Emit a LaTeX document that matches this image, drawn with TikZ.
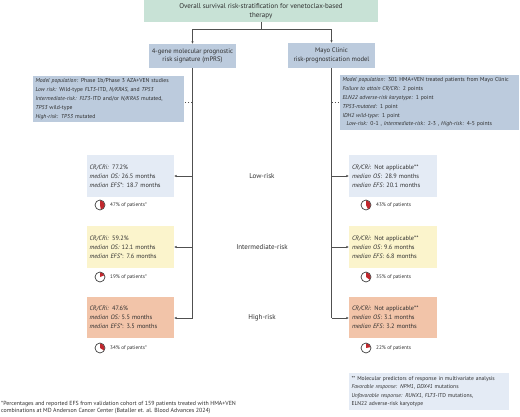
\documentclass[tikz,border=0pt]{standalone}
\usepackage{fontspec}
\setmainfont{PT Sans}
\usetikzlibrary{arrows.meta}
\definecolor{topc}{HTML}{C8E2D6}
\definecolor{modc}{HTML}{BCCBDD}
\definecolor{lowc}{HTML}{E4EBF5}
\definecolor{intc}{HTML}{FBF4CC}
\definecolor{higc}{HTML}{F2C4A9}
\definecolor{notec}{HTML}{E4EBF5}
\definecolor{linec}{HTML}{505050}
\definecolor{txtc}{HTML}{2E2E2E}
\definecolor{piered}{HTML}{C1272D}
\tikzset{
  box/.style={draw=none, inner sep=2.5pt, outer sep=0pt, text=txtc},
  headbox/.style={box, align=center, font=\fontsize{6.6}{8.6}\selectfont},
  resbox/.style={box, minimum height=42pt, text width=82pt, align=left, font=\fontsize{6.3}{9}\selectfont},
  modbox/.style={box, align=left, font=\fontsize{5.7}{8.8}\selectfont},
  risklabel/.style={text=txtc, font=\fontsize{7}{8}\selectfont},
  pietext/.style={anchor=west, text=txtc, inner sep=0pt, font=\fontsize{5.2}{6}\selectfont},
  conn/.style={draw=linec, line width=0.8pt},
  arr/.style={conn, -{Latex[length=2.6pt,width=2.4pt]}},
  dotconn/.style={draw=linec, line width=0.8pt, dash pattern=on 1.2pt off 2pt},
}
\newcommand{\mypie}[4]{% name, x, y, pct
  \node[circle, draw=linec, line width=0.5pt, fill=white, minimum size=10pt, inner sep=0pt] (#1) at (#2,#3) {};
  \fill[piered] (#2,#3) -- ++(-90:4.75) arc[start angle=-90, end angle={-90+3.6*#4}, radius=4.75] -- cycle;
  \draw[linec, line width=0.5pt] (#1) circle[radius=5];
}
\begin{document}
\begin{tikzpicture}[x=1pt,y=-1pt]
\useasboundingbox (0,0) rectangle (520,417);
% top
\node[headbox, fill=topc, minimum width=234pt, minimum height=22pt, font=\fontsize{7}{9}\selectfont] (top) at (261,11)
  {Overall survival risk-stratification for venetoclax-based\\therapy};
\node[headbox, fill=modc, minimum width=87pt, minimum height=24pt] (mprs) at (192.5,56)
  {4-gene molecular prognostic\\risk signature (mPRS)};
\node[headbox, fill=modc, minimum width=87pt, minimum height=25pt] (mayo) at (331.5,55.5)
  {Mayo Clinic\\risk-prognostication model};
\coordinate (split) at (261,29);
\draw[conn] (top.south) -- (split);
\draw[arr] (split) -| (mprs.north);
\draw[arr] (split) -| (mayo.north);

% model boxes
\node[modbox, fill=modc, minimum width=151pt, minimum height=46pt, text width=146pt] (modL) at (108.5,99)
  {\textit{Model population:}\enspace Phase 1b/Phase 3 AZA+VEN studies\\
   \textit{Low risk:} Wild-type \textit{FLT3}-ITD, \textit{N/KRAS}, and \textit{TP53}\\
   \textit{Intermediate-risk:}\enspace \textit{FLT3}-ITD and/or \textit{N/KRAS} mutated,\\
   \textit{TP53} wild-type\\
   \textit{High-risk:}\enspace \textit{TP53} mutated};
\node[modbox, fill=modc, minimum width=179pt, minimum height=51pt, text width=174pt] (modR) at (429.5,102.5)
  {\textit{Model population:}\enspace 301 HMA+VEN treated patients from Mayo Clinic\\
   \textit{Failure to attain CR/CRi:}\enspace 2 points\\
   \textit{ELN22 adverse-risk karyotype:}\enspace 1 point\\
   \textit{TP53-mutated:}\enspace 1 point\\
   \textit{IDH2 wild-type:}\enspace 1 point\\
   \hspace*{4pt}\textit{Low-risk:}\enspace 0-1 , \textit{Intermediate-risk:}\enspace 2-3 , \textit{High-risk:}\enspace 4-5 points};

% result boxes left
\node[resbox, fill=lowc, minimum width=87pt] (L1) at (130.5,176)
  {\textit{CR/CRi:} 77.2\%\\\textit{median OS:} 26.5 months\\\textit{median EFS*}: 18.7 months};
\node[resbox, fill=intc, minimum width=87pt] (L2) at (130.5,247)
  {\textit{CR/CRi:} 59.2\%\\\textit{median OS:} 12.1 months\\\textit{median EFS*}: 7.6 months};
\node[resbox, fill=higc, minimum width=87pt, minimum height=41pt] (L3) at (130.5,317.5)
  {\textit{CR/CRi:} 47.6\%\\\textit{median OS:} 5.5 months\\\textit{median EFS*}: 3.5 months};
% result boxes right
\node[resbox, fill=lowc, minimum width=88pt] (R1) at (393,176)
  {\textit{CR/CRi}: Not applicable**\\\textit{median OS}:\enspace 28.9 months\\\textit{median EFS}: 20.1 months};
\node[resbox, fill=intc, minimum width=88pt] (R2) at (393,247)
  {\textit{CR/CRi}: Not applicable**\\\textit{median OS}: 9.6 months\\\textit{median EFS}: 6.8 months};
\node[resbox, fill=higc, minimum width=88pt, minimum height=41pt] (R3) at (393,317.5)
  {\textit{CR/CRi}: Not applicable**\\\textit{median OS}: 3.1 months\\\textit{median EFS}: 3.2 months};

% risk labels
\node[risklabel] (lowlab) at (262,176) {Low-risk};
\node[risklabel] (intlab) at (262,247) {Intermediate-risk};
\node[risklabel] (higlab) at (262,318) {High-risk};

% left spine
\coordinate (lb1) at (192.5,176);
\coordinate (lb2) at (192.5,247);
\coordinate (lcorner) at (192.5,318);
\coordinate (lmod) at (192.5,102);
\draw[conn] (mprs.south) -- (lcorner);
\draw[arr] (lb1) -- (L1.east |- lb1);
\draw[arr] (lb2) -- (L2.east |- lb2);
\draw[arr] (lcorner) -- (L3.east |- lcorner);
\draw[dotconn] (lmod) -- (modL.east |- lmod);
% right spine
\coordinate (rb1) at (331.5,176);
\coordinate (rb2) at (331.5,247);
\coordinate (rcorner) at (331.5,318);
\coordinate (rmod) at (331.5,102);
\draw[conn] (mayo.south) -- (rcorner);
\draw[arr] (rb1) -- (R1.west |- rb1);
\draw[arr] (rb2) -- (R2.west |- rb2);
\draw[arr] (rcorner) -- (R3.west |- rcorner);
\draw[dotconn] (rmod) -- (modR.west |- rmod);

% pies
\mypie{pL1}{100}{205}{47}
\mypie{pL2}{100}{277}{19}
\mypie{pL3}{100}{348}{34}
\mypie{pR1}{366}{205}{43}
\mypie{pR2}{366}{277}{35}
\mypie{pR3}{366}{348}{22}
\node[pietext] (tL1) at (110,205) {47\% of patients*};
\node[pietext] (tL2) at (110,277) {19\% of patients*};
\node[pietext] (tL3) at (110,348) {34\% of patients*};
\node[pietext] (tR1) at (376,205) {43\% of patients};
\node[pietext] (tR2) at (376,277) {35\% of patients};
\node[pietext] (tR3) at (376,348) {22\% of patients};

% notes
\node[modbox, fill=notec, minimum width=160pt, minimum height=37pt, text width=155pt, font=\fontsize{5.6}{8.4}\selectfont] (note) at (429,391.5)
  {** Molecular predictors of response in multivariate analysis\\
   \textit{Favorable response:}\enspace \textit{NPM1}, \textit{DDX41} mutations\\
   \textit{Unfavorable response:}\enspace \textit{RUNX1}, \textit{FLT3}-ITD mutations,\\
   ELN22 adverse-risk karyotype};
\node[anchor=west, align=left, inner sep=0pt, text=txtc, font=\fontsize{5.9}{6.4}\selectfont] (foot) at (1,407.5)
  {*Percentages and reported EFS from validation cohort of 159 patients treated with HMA+VEN\\
   combinations at MD Anderson Cancer Center (Bataller et. al. Blood Advances 2024)};
\end{tikzpicture}
\end{document}
